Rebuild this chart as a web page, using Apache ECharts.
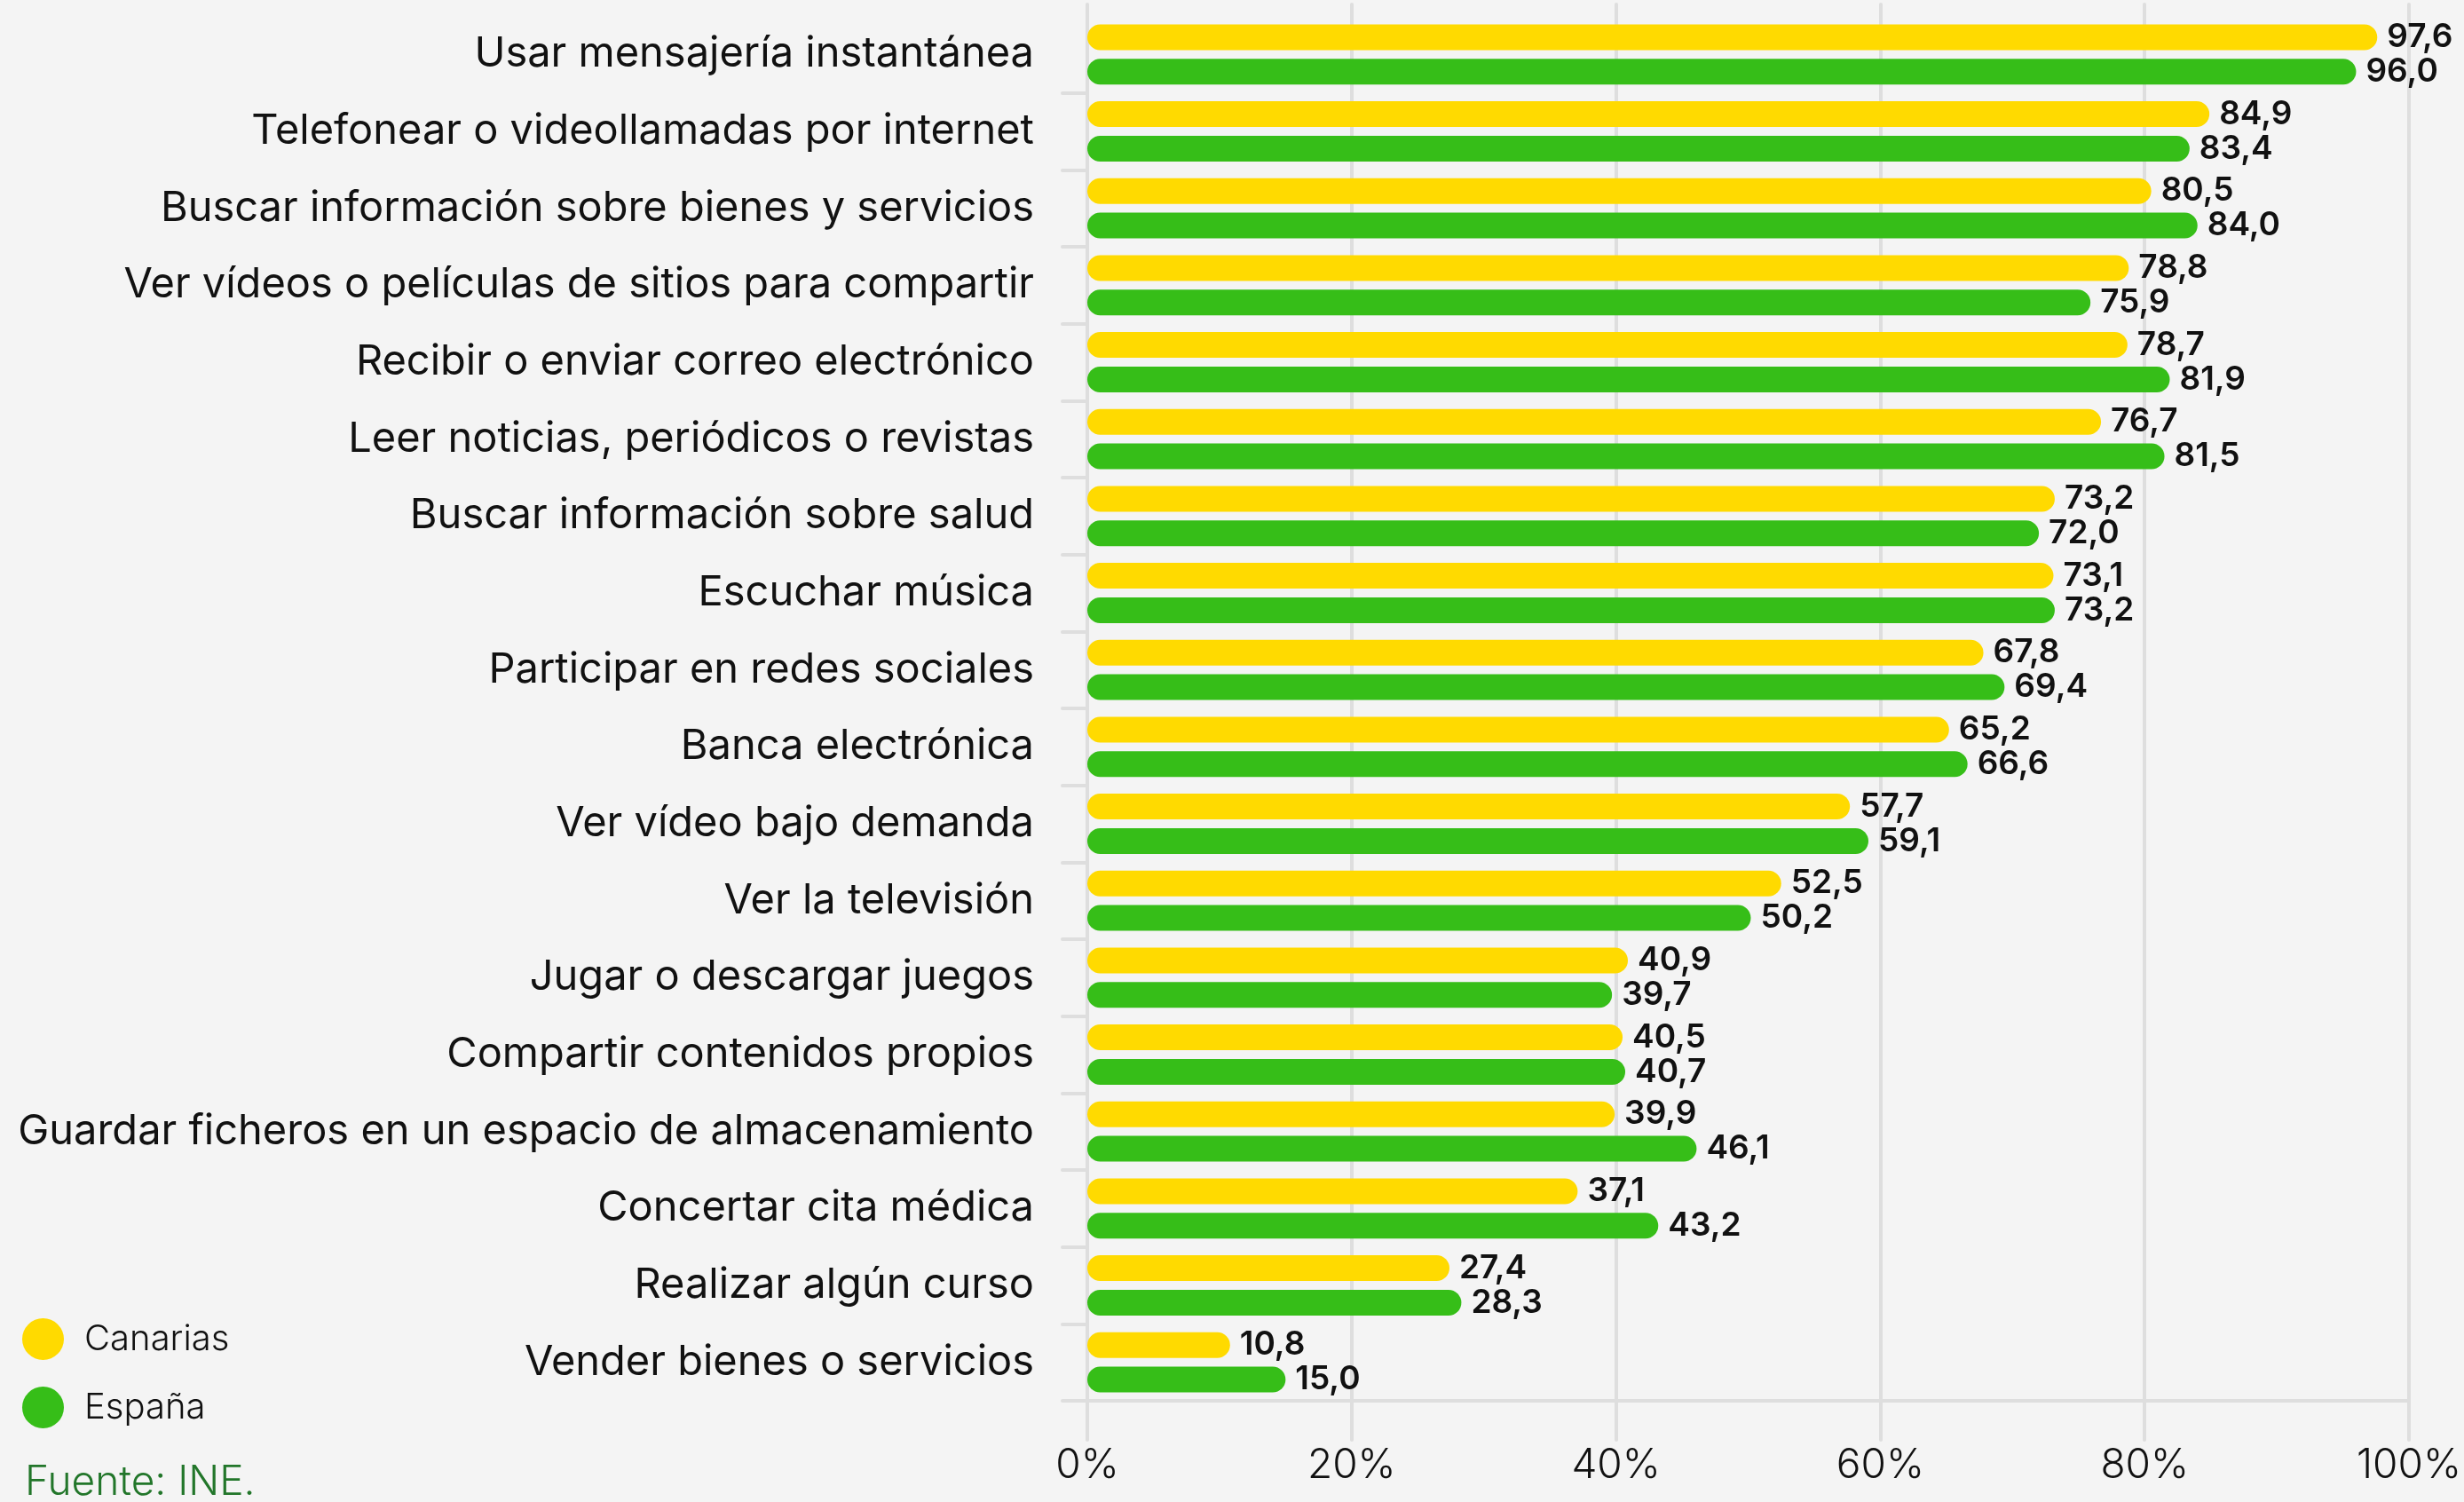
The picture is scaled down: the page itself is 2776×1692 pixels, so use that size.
<!DOCTYPE html>
<html>
<head>
<meta charset="utf-8">
<script src="https://cdn.jsdelivr.net/npm/echarts@6/dist/echarts.min.js"></script>
<style>
  html, body { margin: 0; padding: 0; background: #f4f4f4; }
  #chart { width: 2776px; height: 1692px; }
</style>
</head>
<body>
<div id="chart"></div>
<script>
const categories = [
  'Usar mensajería instantánea',
  'Telefonear o videollamadas por internet',
  'Buscar información sobre bienes y servicios',
  'Ver vídeos o películas de sitios para compartir',
  'Recibir o enviar correo electrónico',
  'Leer noticias, periódicos o revistas',
  'Buscar información sobre salud',
  'Escuchar música',
  'Participar en redes sociales',
  'Banca electrónica',
  'Ver vídeo bajo demanda',
  'Ver la televisión',
  'Jugar o descargar juegos',
  'Compartir contenidos propios',
  'Guardar ficheros en un espacio de almacenamiento',
  'Concertar cita médica',
  'Realizar algún curso',
  'Vender bienes o servicios'
];
const canarias = [97.6, 84.9, 80.5, 78.8, 78.7, 76.7, 73.2, 73.1, 67.8, 65.2, 57.7, 52.5, 40.9, 40.5, 39.9, 37.1, 27.4, 10.8];
const espana   = [96.0, 83.4, 84.0, 75.9, 81.9, 81.5, 72.0, 73.2, 69.4, 66.6, 59.1, 50.2, 39.7, 40.7, 46.1, 43.2, 28.3, 15.0];
const seriesNames = ['Canarias', 'España'];
const xTicks = { min: 0, max: 100, interval: 20 };
const sourceText = 'Fuente: INE.';

const YELLOW = '#FFDA00';
const GREEN = '#36BE18';
const GRID = '#dedede';
const FONT = 'Inter, "Noto Sans", sans-serif';

const chart = echarts.init(document.getElementById('chart'), null, { renderer: 'canvas' });

const fmt = p => p.value.toFixed(1).replace('.', ',');

function barSeries(name, data, color) {
  return {
    name: name,
    type: 'bar',
    data: data,
    xAxisIndex: 0,
    barWidth: 29,
    barGap: '34%',
    itemStyle: { color: color, borderRadius: 14.5 },
    label: {
      show: true,
      position: 'right',
      distance: 11,
      formatter: fmt,
      fontFamily: FONT,
      fontSize: 37,
      fontWeight: 600,
      color: '#111'
    },
    emphasis: { disabled: true },
    animation: false
  };
}

chart.setOption({
  backgroundColor: '#f4f4f4',
  animation: false,
  title: {
    text: sourceText,
    left: 28,
    top: 1647,
    padding: 0,
    textStyle: { fontFamily: FONT, fontSize: 46, fontWeight: 300, color: '#22762a' }
  },
  legend: {
    data: seriesNames,
    orient: 'vertical',
    left: 25,
    top: 1485,
    padding: 0,
    itemWidth: 47,
    itemHeight: 47,
    itemGap: 30,
    icon: 'circle',
    selectedMode: false,
    textStyle: { fontFamily: FONT, fontSize: 40, fontWeight: 300, color: '#111', padding: [0, 0, 0, 18] }
  },
  grid: { left: 1225, right: 62, top: 18, bottom: 114, containLabel: false, outerBoundsMode: 'none' },
  xAxis: [
    {
      type: 'value',
      position: 'bottom',
      min: xTicks.min, max: xTicks.max, interval: xTicks.interval,
      axisLine: { show: true, lineStyle: { color: GRID, width: 4, cap: 'round' } },
      axisTick: { show: true, length: 44, lineStyle: { color: GRID, width: 4, cap: 'round' } },
      splitLine: { show: true, lineStyle: { color: GRID, width: 4 } },
      axisLabel: {
        formatter: '{value}%',
        margin: 50,
        fontFamily: FONT, fontSize: 46, fontWeight: 300, color: '#111'
      }
    },
    {
      type: 'value',
      position: 'top',
      min: xTicks.min, max: xTicks.max, interval: xTicks.interval,
      axisLine: { show: false },
      axisTick: { show: true, length: 13, lineStyle: { color: GRID, width: 4, cap: 'round' } },
      splitLine: { show: false },
      axisLabel: { show: false }
    }
  ],
  yAxis: {
    type: 'category',
    inverse: true,
    data: categories,
    axisLine: { show: false },
    axisTick: {
      show: true, length: 28,
      interval: function (i) { return i !== 0; },
      lineStyle: { color: GRID, width: 4, cap: 'round' }
    },
    axisLabel: {
      margin: 60,
      fontFamily: FONT, fontSize: 47, fontWeight: 400, color: '#111'
    }
  },
  series: [
    barSeries(seriesNames[0], canarias, YELLOW),
    barSeries(seriesNames[1], espana, GREEN)
  ]
});
</script>
</body>
</html>
